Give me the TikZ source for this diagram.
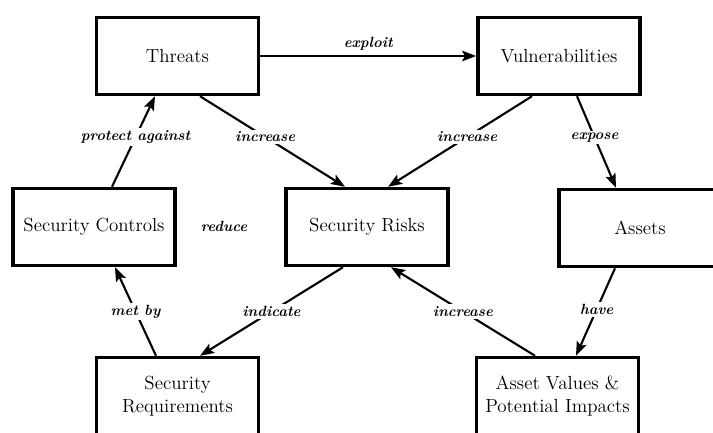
\documentclass[tikz,border=0pt]{standalone}
\usepackage{tikz}
\usetikzlibrary{arrows.meta, positioning, calc}

\begin{document}
\begin{tikzpicture}[
    x=0.025cm, y=-0.025cm,
    conceptbox/.style={rectangle, draw=black, line width=2.6pt, fill=white,
        minimum width=4.05cm, minimum height=1.92cm, align=center,
        font=\fontsize{13.5}{16}\selectfont, inner sep=2pt},
    relarrow/.style={-{Stealth[length=10pt, width=7.5pt, inset=2pt]}, line width=1.5pt},
    rellabel/.style={font=\bfseries\itshape\fontsize{10.5}{12}\selectfont, fill=white,
        inner sep=1.5pt}
]
    % Frame
    \clip (0,0) rectangle (713,433);

    % Top row
    \node[conceptbox] (threats) at (177.5, 56) {Threats};
    \node[conceptbox] (vuln)    at (559, 56)   {Vulnerabilities};

    % Middle row
    \node[conceptbox] (controls) at (94, 227)  {Security Controls};
    \node[conceptbox] (risks)    at (367, 227) {Security Risks};
    \node[conceptbox] (assets)   at (640, 228) {Assets};

    % Bottom row
    \node[conceptbox] (reqs)   at (177.5, 396) {Security\\Requirements};
    \node[conceptbox] (values) at (557.5, 396) {Asset Values \&\\Potential Impacts};

    % Free label
    \node[rellabel] (reduce) at (224, 226) {reduce};

    % Arrows
    \draw[relarrow] (threats.east) -- (vuln.west)
        node[rellabel, midway, above=2pt, fill=none] {exploit};
    \draw[relarrow] ($(threats.south)+(22.5,0)$) -- ($(risks.north)+(-22,0)$)
        node[rellabel, pos=0.45] {increase};
    \draw[relarrow] ($(vuln.south)+(-27,0)$) -- ($(risks.north)+(21,0)$)
        node[rellabel, pos=0.45] {increase};
    \draw[relarrow] ($(vuln.south)+(18,0)$) -- ($(assets.north)+(-24,0)$)
        node[rellabel, pos=0.45] {expose};
    \draw[relarrow] ($(controls.north)+(18,0)$) -- ($(threats.south)+(-22.5,0)$)
        node[rellabel, pos=0.55] {protect against};
    \draw[relarrow] ($(reqs.north)+(-21.5,0)$) -- ($(controls.south)+(21,0)$)
        node[rellabel, midway] {met by};
    \draw[relarrow] ($(risks.south)+(-24,0)$) -- ($(reqs.north)+(22.5,0)$)
        node[rellabel, midway] {indicate};
    \draw[relarrow] ($(values.north)+(-22.5,0)$) -- ($(risks.south)+(24,0)$)
        node[rellabel, midway] {increase};
    \draw[relarrow] ($(assets.south)+(-25,0)$) -- ($(values.north)+(18.5,0)$)
        node[rellabel, pos=0.47] {have};

\end{tikzpicture}
\end{document}
